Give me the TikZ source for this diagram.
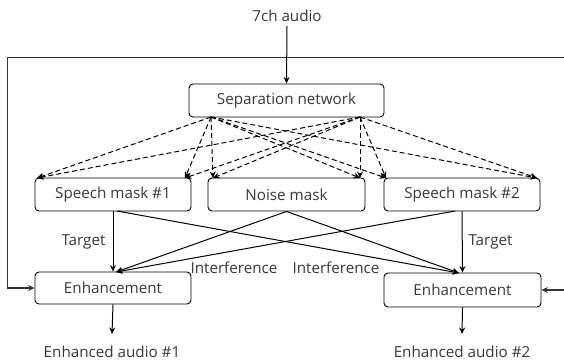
\documentclass[tikz,border=0pt]{standalone}
\usepackage{fontspec}
\setmainfont{Open Sans}
\usetikzlibrary{arrows.meta}
\begin{document}
\begin{tikzpicture}[x=1pt,y=-1pt,
  every node/.style={font=\fontsize{15.2}{18}\selectfont, text=black!78},
  box/.style={draw, rounded corners=4pt, line width=0.9pt, inner sep=0pt},
  lbl/.style={inner sep=1pt},
  arr/.style={-{Stealth[length=6.5pt,width=6pt]}, line width=1pt},
  dsh/.style={arr, dash pattern=on 5pt off 3pt}]
\clip (0,0) rectangle (564,362);
% nodes
\node[lbl, inner sep=4pt] (in) at (287,16) {7ch audio};
\node[box, minimum width=195pt, minimum height=33pt] (sep) at (286.5,100.5) {Separation network};
\node[box, minimum width=156pt, minimum height=33pt] (s1) at (113,194.5) {Speech mask \#1};
\node[box, minimum width=157pt, minimum height=33pt] (nm) at (286.5,194.5) {Noise mask};
\node[box, minimum width=156pt, minimum height=33pt] (s2) at (462,194.5) {Speech mask \#2};
\node[box, minimum width=156pt, minimum height=32pt] (e1) at (113,288) {Enhancement};
\node[box, minimum width=157pt, minimum height=34pt] (e2) at (462.5,290) {Enhancement};
\node[lbl] (o1) at (112,352) {Enhanced audio \#1};
\node[lbl] (o2) at (462,352) {Enhanced audio \#2};
\node[lbl] (t1) at (83.5,242) {Target};
\node[lbl] (t2) at (490.5,242) {Target};
\node[lbl] (i1) at (234,268) {Interference};
\node[lbl] (i2) at (336,268) {Interference};
% coordinates for dashed fan
\coordinate (L) at (211,117);
\coordinate (R) at (360,117);
\coordinate (a1) at (37,178);
\coordinate (a2) at (185,178);
\coordinate (a3) at (213,178);
\coordinate (a4) at (360,178);
\coordinate (a5) at (386,178);
\coordinate (a6) at (537,178);
\foreach \s in {L,R}{
  \foreach \t in {a1,a2,a3,a4,a5,a6}{
    \draw[dsh] (\s) -- (\t);
  }
}
% input
\draw[arr] (in.south) -- (sep.north);
% solid mask connections
\coordinate (s1d) at (117,211);
\coordinate (s2d) at (455,211);
\coordinate (e1in) at (116,272);
\coordinate (e2in) at (459,273);
\draw[arr] (s1.south) -- (e1.north);
\draw[arr] (s2.south) -- (e2.north);
\draw[arr] (s1d) -- (e2in);
\draw[arr] (s2d) -- (e1in);
\draw[arr] (nm.south) -- (e1in);
\draw[arr] (nm.south) -- (e2in);
% outputs
\draw[arr] (e1.south) -- ([yshift=11pt]o1.north);
\draw[arr] (e2.south) -- ([yshift=11pt]o2.north);
% feedback
\coordinate (tl) at (7.5,57.5);
\coordinate (tr) at (570,57.5);
\draw[arr, line width=1.1pt, black!80] (tr) -- (tl) |- (e1.west);
\draw[arr, line width=1.1pt, black!80] (tr) |- (e2.east);
\end{tikzpicture}
\end{document}
